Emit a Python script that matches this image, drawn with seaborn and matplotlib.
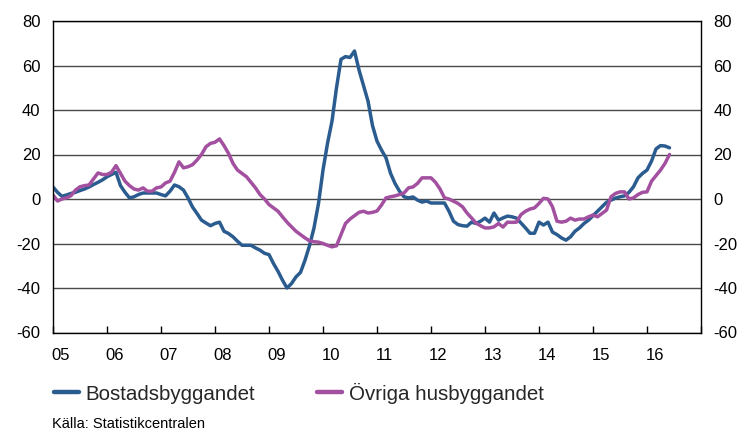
import numpy as np
import pandas as pd
import matplotlib
matplotlib.use("Agg")
import matplotlib.pyplot as plt
import seaborn as sns

# Monthly series, Jan 2005 - Jun 2016 (percent change)
bostad = [
    5.4, 3.0, 1.2, 1.8, 2.5, 3.0, 3.8, 4.5, 5.4, 6.5, 7.5, 8.6,            # 2005
    10.0, 11.0, 12.0, 6.0, 3.0, 0.5, 1.0, 2.0, 2.7, 2.7, 2.7, 2.7,         # 2006
    2.0, 1.4, 3.5, 6.3, 5.5, 4.0, 0.5, -3.6, -6.5, -9.5, -10.8, -12.0,     # 2007
    -11.0, -10.4, -14.5, -15.5, -17.0, -19.0, -20.8, -20.8, -20.8, -22.0, -23.0, -24.4,  # 2008
    -25.0, -29.0, -32.5, -36.5, -40.0, -38.0, -35.0, -33.0, -27.5, -21.0, -13.0, -2.0,   # 2009
    13.0, 25.0, 35.0, 50.0, 62.8, 64.0, 63.6, 66.5, 58.0, 51.0, 44.0, 33.0,  # 2010
    26.0, 22.0, 18.5, 11.6, 7.0, 3.5, 1.0, 0.5, 0.9, -0.5, -1.4, -0.9,     # 2011
    -1.8, -1.8, -1.8, -1.8, -5.5, -10.0, -11.5, -12.0, -12.2, -10.4, -11.0, -10.0,  # 2012
    -8.6, -10.4, -6.3, -9.5, -8.5, -7.7, -8.0, -8.6, -10.8, -13.0, -15.4, -15.4,    # 2013
    -10.4, -11.7, -10.4, -14.9, -16.0, -17.5, -18.5, -17.0, -14.5, -13.0, -11.0, -9.5,  # 2014
    -7.5, -5.5, -3.5, -1.5, -0.5, 0.4, 1.0, 1.4, 3.0, 5.5, 9.5, 11.5,      # 2015
    13.0, 17.0, 22.5, 24.0, 23.8, 23.0,                                    # 2016
]
ovriga = [
    1.8, -0.9, 0.0, 0.5, 1.5, 4.0, 5.5, 6.0, 6.3, 9.0, 11.7, 11.0,          # 2005
    11.0, 12.0, 15.0, 11.5, 8.0, 6.0, 4.5, 4.0, 5.0, 3.5, 3.5, 5.0,        # 2006
    5.4, 7.2, 8.0, 12.0, 16.7, 14.0, 14.5, 15.4, 17.5, 20.0, 23.5, 25.0,   # 2007
    25.5, 27.0, 24.0, 20.5, 16.0, 13.0, 11.5, 10.0, 7.5, 5.0, 2.0, 0.0,    # 2008
    -2.5, -4.0, -5.5, -8.0, -10.4, -12.5, -14.5, -16.0, -17.5, -18.8, -19.2, -19.4,  # 2009
    -20.0, -20.8, -21.5, -21.0, -16.0, -11.0, -9.0, -7.5, -6.0, -5.5, -6.3, -6.0,    # 2010
    -5.4, -2.7, 0.5, 1.0, 1.4, 2.0, 2.7, 5.0, 5.4, 7.0, 9.5, 9.5,          # 2011
    9.5, 7.5, 4.5, 0.5, 0.0, -1.0, -2.0, -3.5, -6.3, -8.5, -10.8, -12.0,   # 2012
    -13.0, -13.0, -12.5, -11.0, -12.6, -10.4, -10.5, -10.4, -7.0, -5.5, -4.5, -4.0,  # 2013
    -2.0, 0.3, 0.0, -3.5, -10.0, -10.4, -10.0, -8.6, -9.5, -9.0, -9.0, -8.0,  # 2014
    -7.2, -8.0, -6.5, -5.0, 1.0, 2.5, 3.2, 3.2, 0.0, 0.5, 2.0, 3.0,        # 2015
    3.2, 8.0, 10.5, 13.0, 16.0, 20.0,                                      # 2016
]
series_names = ["Bostadsbyggandet", "Övriga husbyggandet"]
series_colors = ["#2B5C8F", "#A2509F"]
year_labels = ["05", "06", "07", "08", "09", "10", "11", "12", "13", "14", "15", "16"]
y_ticks = [-60, -40, -20, 0, 20, 40, 60, 80]
source_text = "Källa: Statistikcentralen"

n = len(bostad)
t = 2005 + np.arange(n) / 12.0
df = pd.DataFrame({
    "t": np.concatenate([t, t]),
    "value": bostad + ovriga,
    "serie": [series_names[0]] * n + [series_names[1]] * n,
})

sns.set_theme(style="white")
plt.rcParams["font.family"] = ["Liberation Sans", "DejaVu Sans"]

W, H = 743, 432
fig = plt.figure(figsize=(W / 100, H / 100), dpi=100)
ax = fig.add_axes([53 / W, 1 - 332.5 / H, (701 - 53) / W, (332.5 - 21) / H])

# horizontal grid
for yv in y_ticks:
    ax.axhline(yv, color="#4a4a4a", lw=1.0, zorder=0)

sns.lineplot(data=df, x="t", y="value", hue="serie", hue_order=series_names,
             palette=series_colors, linewidth=2.5, ax=ax, legend=False,
             estimator=None, sort=False)

ax.set_xlim(2005, 2017)
ax.set_ylim(-60, 80)
ax.set_xlabel("")
ax.set_ylabel("")

# year boundaries as ticks, labels set just after each boundary
ax.set_xticks(np.arange(2005, 2018))
ax.set_xticklabels([])
ax.set_xticks(np.arange(2005, 2017) + 0.14, minor=True)
ax.set_xticklabels(year_labels, minor=True)
ax.tick_params(axis="x", which="major", direction="in", length=5, width=1,
               color="black", bottom=True, top=False)
ax.tick_params(axis="x", which="minor", length=0, pad=11, labelsize=12,
               labelcolor="black")

ax.set_yticks(y_ticks)
ax.set_yticklabels([str(v) for v in y_ticks])
ax.tick_params(axis="y", length=0, pad=9, labelsize=12, labelcolor="black",
               left=False, right=False, labelleft=True, labelright=True)

for s in ax.spines.values():
    s.set_visible(True)
    s.set_color("black")
    s.set_linewidth(1.0)

handles = [plt.Line2D([], [], color=c, lw=3.2) for c in series_colors]
fig.legend(handles, series_names, loc="center left",
           bbox_to_anchor=(54 / W, 1 - 393 / H), ncol=2, frameon=False,
           fontsize=14.8, handlelength=1.2, handletextpad=0.35,
           columnspacing=3.0, borderpad=0, borderaxespad=0)

fig.text(52 / W, 1 - 424 / H, source_text, fontsize=10.5, va="center",
         ha="left", color="black")

fig.savefig("out.png", dpi=100)
